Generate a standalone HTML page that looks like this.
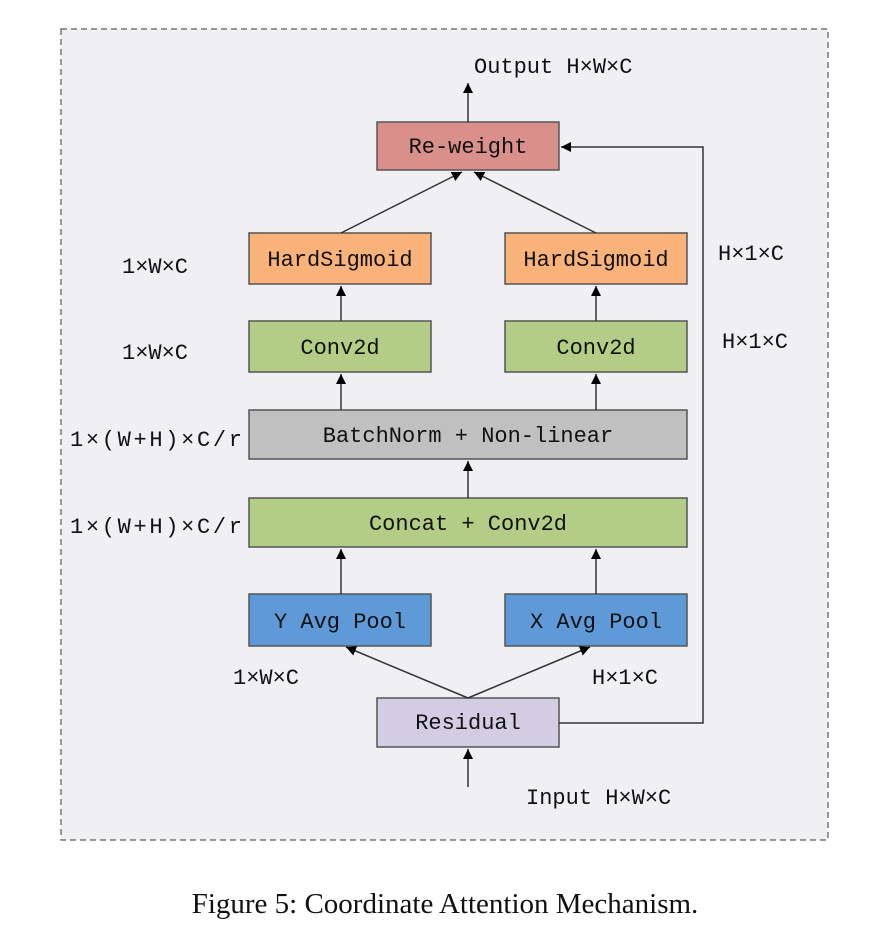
<!DOCTYPE html>
<html><head><meta charset="utf-8"><style>
html,body{margin:0;padding:0;background:#fff;}
svg{display:block;}
.t{font-family:"Liberation Mono","Noto Sans CJK SC",monospace;font-size:22px;fill:#111;}
.c{font-family:"Liberation Serif",serif;font-size:29px;fill:#111;}
</style></head><body>
<svg width="891" height="947" viewBox="0 0 891 947" xmlns="http://www.w3.org/2000/svg">
<defs><marker id="a" markerWidth="12" markerHeight="12" refX="10" refY="5" orient="auto" markerUnits="userSpaceOnUse"><path d="M0,0 L10,5 L0,10 z" fill="#000"/></marker></defs>
<rect x="61" y="29" width="767" height="811" fill="#f0eff4" stroke="#777" stroke-width="1.5" stroke-dasharray="6,4"/>
<g stroke="#555" stroke-width="1.5">
<rect x="377" y="122" width="182" height="48" fill="#d98f8a"/>
<rect x="249" y="233" width="182" height="51" fill="#f9b27a"/>
<rect x="505" y="233" width="182" height="51" fill="#f9b27a"/>
<rect x="249" y="321" width="182" height="51" fill="#b3cd86"/>
<rect x="505" y="321" width="182" height="51" fill="#b3cd86"/>
<rect x="249" y="410" width="438" height="49" fill="#c0c0c0"/>
<rect x="249" y="498" width="438" height="49" fill="#b3cd86"/>
<rect x="249" y="594" width="182" height="52" fill="#5f9ad8"/>
<rect x="505" y="594" width="182" height="52" fill="#5f9ad8"/>
<rect x="377" y="698" width="182" height="49" fill="#d3cde3"/>
</g>
<g stroke="#333" stroke-width="1.5" fill="none" marker-end="url(#a)">
<line x1="468" y1="122" x2="468" y2="83"/>
<line x1="341" y1="233" x2="462" y2="172"/>
<line x1="596" y1="233" x2="474" y2="172"/>
<line x1="341" y1="321" x2="341" y2="286"/>
<line x1="596" y1="321" x2="596" y2="286"/>
<line x1="341" y1="410" x2="341" y2="374"/>
<line x1="596" y1="410" x2="596" y2="374"/>
<line x1="468" y1="498" x2="468" y2="461"/>
<line x1="341" y1="594" x2="341" y2="549"/>
<line x1="596" y1="594" x2="596" y2="549"/>
<line x1="468" y1="698" x2="346" y2="647"/>
<line x1="468" y1="698" x2="590" y2="647"/>
<line x1="468" y1="787" x2="468" y2="749"/>
<polyline points="559,723 703,723 703,147 561,147"/>
</g>
<g class="t" text-anchor="middle">
<text x="468" y="153">Re-weight</text>
<text x="340" y="266">HardSigmoid</text>
<text x="596" y="266">HardSigmoid</text>
<text x="340" y="354">Conv2d</text>
<text x="596" y="354">Conv2d</text>
<text x="468" y="442">BatchNorm + Non-linear</text>
<text x="468" y="530">Concat + Conv2d</text>
<text x="340" y="628">Y Avg Pool</text>
<text x="596" y="628">X Avg Pool</text>
<text x="468" y="729">Residual</text>
</g>
<g class="t">
<text x="474" y="73">Output H×W×C</text>
<text x="122" y="273">1×W×C</text>
<text x="122" y="359">1×W×C</text>
<text x="718" y="260">H×1×C</text>
<text x="722" y="348">H×1×C</text>
<text x="70" y="446" textLength="172">1×(W+H)×C/r</text>
<text x="70" y="533" textLength="172">1×(W+H)×C/r</text>
<text x="233" y="684">1×W×C</text>
<text x="592" y="684">H×1×C</text>
<text x="526" y="804">Input H×W×C</text>
</g>
<text class="c" x="445" y="913" text-anchor="middle">Figure 5:   Coordinate Attention Mechanism.</text>
</svg>
</body></html>
